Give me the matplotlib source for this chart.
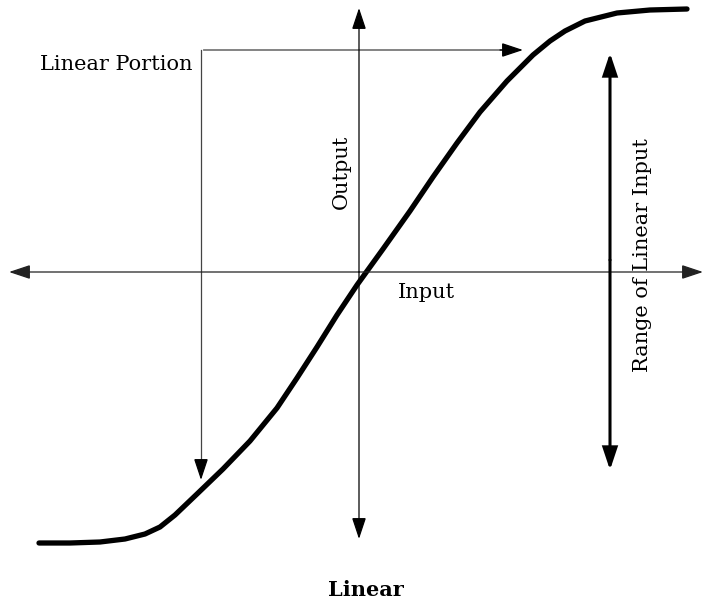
import matplotlib.pyplot as plt

# transfer curve, in picture pixels (x right, y down)
curve_x = [39, 70, 100, 125, 145, 160, 175, 197, 223, 250, 277, 297, 317, 337,
           357, 370, 383, 410, 433, 457, 480, 507, 533, 550, 565, 585, 617, 650, 687]
curve_y = [543, 543, 542, 539, 534, 527, 515, 494, 469, 441, 408, 378, 347, 315,
           285, 267, 249, 211, 177, 143, 112, 81, 55, 41, 31, 21, 13, 10, 9]

axis_origin = (359, 272)
labels = {"portion": "Linear Portion", "out": "Output", "in": "Input",
          "range": "Range of Linear Input", "title": "Linear"}

plt.rcParams['font.family'] = ['DejaVu Serif']

fig = plt.figure(figsize=(7.05, 6.01), dpi=100)
ax = fig.add_axes([0, 0, 1, 1])
ax.set_xlim(0, 705)
ax.set_ylim(601, 0)
ax.axis('off')

HEAD = '-|>,head_length=0.6,head_width=0.2'

def arrow(x0, y0, x1, y1, lw=0.9, color='black', style=HEAD):
    ax.annotate('', xy=(x1, y1), xytext=(x0, y0),
                arrowprops=dict(arrowstyle=style, lw=lw, color=color,
                                mutation_scale=22, shrinkA=0, shrinkB=0,
                                joinstyle='miter'))

ox, oy = axis_origin
# axes
arrow(ox, oy, 703, oy, color='#222222')
arrow(ox, oy, 9, oy, color='#222222')
arrow(ox, oy, ox, 8)
arrow(ox, oy, ox, 539)

# linear portion bracket
ax.plot([204, 505], [50, 50], color='#7a7a7a', lw=1.3)
arrow(500, 50, 523, 50)
ax.plot([201, 201], [50, 465], color='#444444', lw=0.9)
arrow(201, 460, 201, 480)

# range of linear input
arrow(610, 260, 610, 53, lw=2.2)
arrow(610, 260, 610, 470, lw=2.2)

ax.plot(curve_x, curve_y, color='black', lw=3.8, solid_capstyle='round',
        solid_joinstyle='round')

ax.text(193, 70, labels["portion"], fontsize=15, ha='right', va='baseline')
ax.text(341, 172, labels["out"], fontsize=15, rotation=90, ha='center', va='center')
ax.text(398, 298, labels["in"], fontsize=15, ha='left', va='baseline')
ax.text(643, 138, labels["range"], fontsize=15, rotation=90, ha='center', va='top')
ax.text(366, 596, labels["title"], fontsize=15, fontweight='bold', ha='center',
        va='baseline')

fig.savefig('out.png', dpi=100)
